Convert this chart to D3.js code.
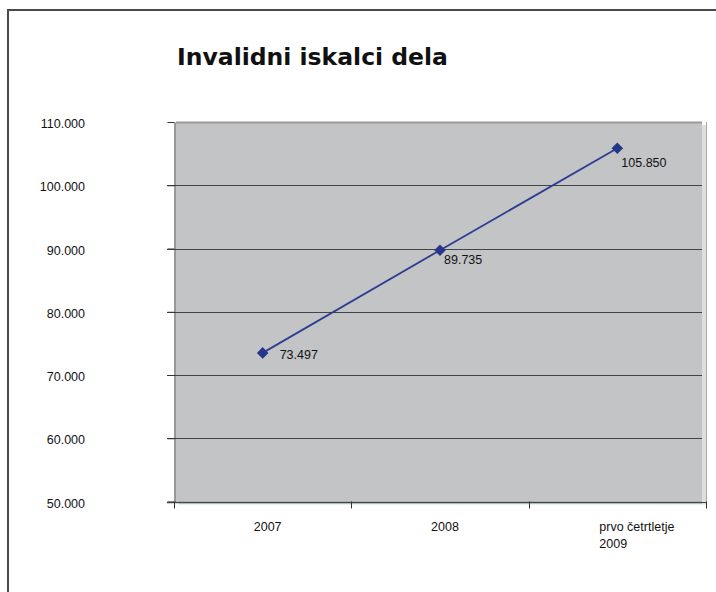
<!DOCTYPE html>
<html>
<head>
<meta charset="utf-8">
<style>
  body { margin: 0; background: #fff; }
  text { font-family: "Liberation Sans", Arial, sans-serif; fill: #111; }
</style>
</head>
<body>
<div id="chart"></div>
<script src="https://d3js.org/d3.v7.min.js"></script>
<script>
// data
var categories = ["2007", "2008", "prvo četrtletje 2009"];
var values = [73497, 89735, 105850];
var yTicks = [50000, 60000, 70000, 80000, 90000, 100000, 110000];
var title = "Invalidni iskalci dela";

// layout bits (not data)
var labelOffsets = [[17, 2], [4, 9], [4, 14]];

var W = 716, H = 592;
var plot = {left: 174, right: 706, top: 122, bottom: 501.5};

var sl = d3.formatLocale({decimal: ",", thousands: ".", grouping: [3], currency: ["", " €"]});
var fmt = sl.format(",d");

var svg = d3.select("#chart").append("svg")
    .attr("width", W)
    .attr("height", H);

// outer frame
svg.append("rect")
    .attr("x", 8).attr("y", 10)
    .attr("width", 900).attr("height", 900)
    .attr("fill", "none")
    .attr("stroke", "#4a4a4a")
    .attr("stroke-width", 2);

svg.append("text")
    .attr("x", 177)
    .attr("y", 65)
    .style("font-family", "'DejaVu Sans', Verdana, sans-serif")
    .style("font-weight", "bold")
    .style("font-size", "23.5px")
    .text(title);

var x = d3.scaleBand()
    .domain(categories)
    .range([plot.left, plot.right])
    .padding(0);

var y = d3.scaleLinear()
    .domain([d3.min(yTicks), d3.max(yTicks)])
    .range([plot.bottom, plot.top]);

// shadow + plot area
svg.append("rect")
    .attr("x", plot.left + 5).attr("y", y(d3.max(yTicks)) + 3)
    .attr("width", plot.right - plot.left - 4).attr("height", y(d3.min(yTicks)) - y(d3.max(yTicks)))
    .attr("fill", "#dedede");
svg.append("rect")
    .attr("x", plot.left + 2).attr("y", y(d3.max(yTicks)))
    .attr("width", plot.right - plot.left - 6).attr("height", y(d3.min(yTicks)) - y(d3.max(yTicks)))
    .attr("fill", "#c3c4c6");
svg.append("line")
    .attr("x1", plot.left + 2).attr("x2", plot.right - 4)
    .attr("y1", y(d3.max(yTicks)) + 0.5).attr("y2", y(d3.max(yTicks)) + 0.5)
    .attr("stroke", "#9a9a9a").attr("stroke-width", 2);
svg.append("line")
    .attr("x1", plot.right + 0.5).attr("x2", plot.right + 0.5)
    .attr("y1", y(d3.max(yTicks))).attr("y2", y(d3.min(yTicks)) + 7)
    .attr("stroke", "#a8a8a8");

// grid lines
svg.append("g")
  .selectAll("line")
  .data(yTicks.filter(function(d) { return d !== d3.max(yTicks); }))
  .enter().append("line")
    .attr("x1", plot.left - 7)
    .attr("x2", plot.right - 4)
    .attr("y1", function(d) { return Math.round(y(d)) + 0.5; })
    .attr("y2", function(d) { return Math.round(y(d)) + 0.5; })
    .attr("stroke", function(d) { return d === d3.min(yTicks) ? "#3a4a4a" : "#444"; })
    .attr("stroke-width", function(d) { return d === d3.min(yTicks) ? 1.5 : 1; });

// y axis
svg.append("g")
    .attr("transform", "translate(" + (plot.left + 0.5) + ",0)")
    .call(d3.axisLeft(y).tickValues(yTicks).tickSize(7).tickSizeOuter(0).tickFormat(function() { return ""; }))
    .call(function(g) {
      g.select(".domain").attr("stroke", "#333");
      g.selectAll(".tick line").attr("stroke", "#333");
    });

svg.append("g")
  .selectAll("text")
  .data(yTicks)
  .enter().append("text")
    .attr("x", 85)
    .attr("y", function(d) { return y(d) + 2; })
    .attr("dy", "0.32em")
    .attr("text-anchor", "end")
    .style("font-size", "12.5px")
    .text(function(d) { return fmt(d); });

// x axis: ticks on band edges
var edges = categories.map(function(c) { return x(c); }).concat([x.range()[1]]);
svg.append("line")
    .attr("x1", plot.left - 7).attr("x2", plot.right)
    .attr("y1", Math.round(y(d3.min(yTicks))) + 0.5).attr("y2", Math.round(y(d3.min(yTicks))) + 0.5)
    .attr("stroke", "#3a4a4a");
svg.append("g")
  .selectAll("line")
  .data(edges)
  .enter().append("line")
    .attr("x1", function(d) { return Math.round(d) + 0.5; })
    .attr("x2", function(d) { return Math.round(d) + 0.5; })
    .attr("y1", y(d3.min(yTicks)))
    .attr("y2", y(d3.min(yTicks)) + 7)
    .attr("stroke", "#333");

svg.append("g")
  .selectAll("text")
  .data(categories)
  .enter().append("text")
    .attr("y", 531)
    .style("font-size", "12.5px")
    .each(function(d) {
      var cx = x(d) + x.bandwidth() / 2;
      var words = d.split(" ");
      var sel = d3.select(this);
      if (words.length > 1) {
        var lines = [words.slice(0, -1).join(" "), words[words.length - 1]];
        sel.attr("text-anchor", "start");
        lines.forEach(function(l, i) {
          sel.append("tspan").attr("x", cx - 18).attr("dy", i ? 17 : 0).text(l);
        });
      } else {
        sel.attr("text-anchor", "middle").attr("x", cx + 5).text(d);
      }
    });

// series line
var pts = categories.map(function(c, i) { return [x(c) + x.bandwidth() / 2, y(values[i])]; });

svg.append("path")
    .datum(pts)
    .attr("fill", "none")
    .attr("stroke", "#2e3d92")
    .attr("stroke-width", 1.8)
    .attr("d", d3.line());

svg.append("g")
  .selectAll("path")
  .data(pts)
  .enter().append("path")
    .attr("transform", function(d) { return "translate(" + d[0] + "," + d[1] + ")"; })
    .attr("d", d3.symbol().type(d3.symbolDiamond2).size(85))
    .attr("fill", "#26378a");

svg.append("g")
  .selectAll("text")
  .data(pts)
  .enter().append("text")
    .attr("x", function(d, i) { return d[0] + labelOffsets[i][0]; })
    .attr("y", function(d, i) { return d[1] + labelOffsets[i][1]; })
    .attr("dy", "0.35em")
    .style("font-size", "12.5px")
    .text(function(d, i) { return fmt(values[i]); });
</script>
</body>
</html>
